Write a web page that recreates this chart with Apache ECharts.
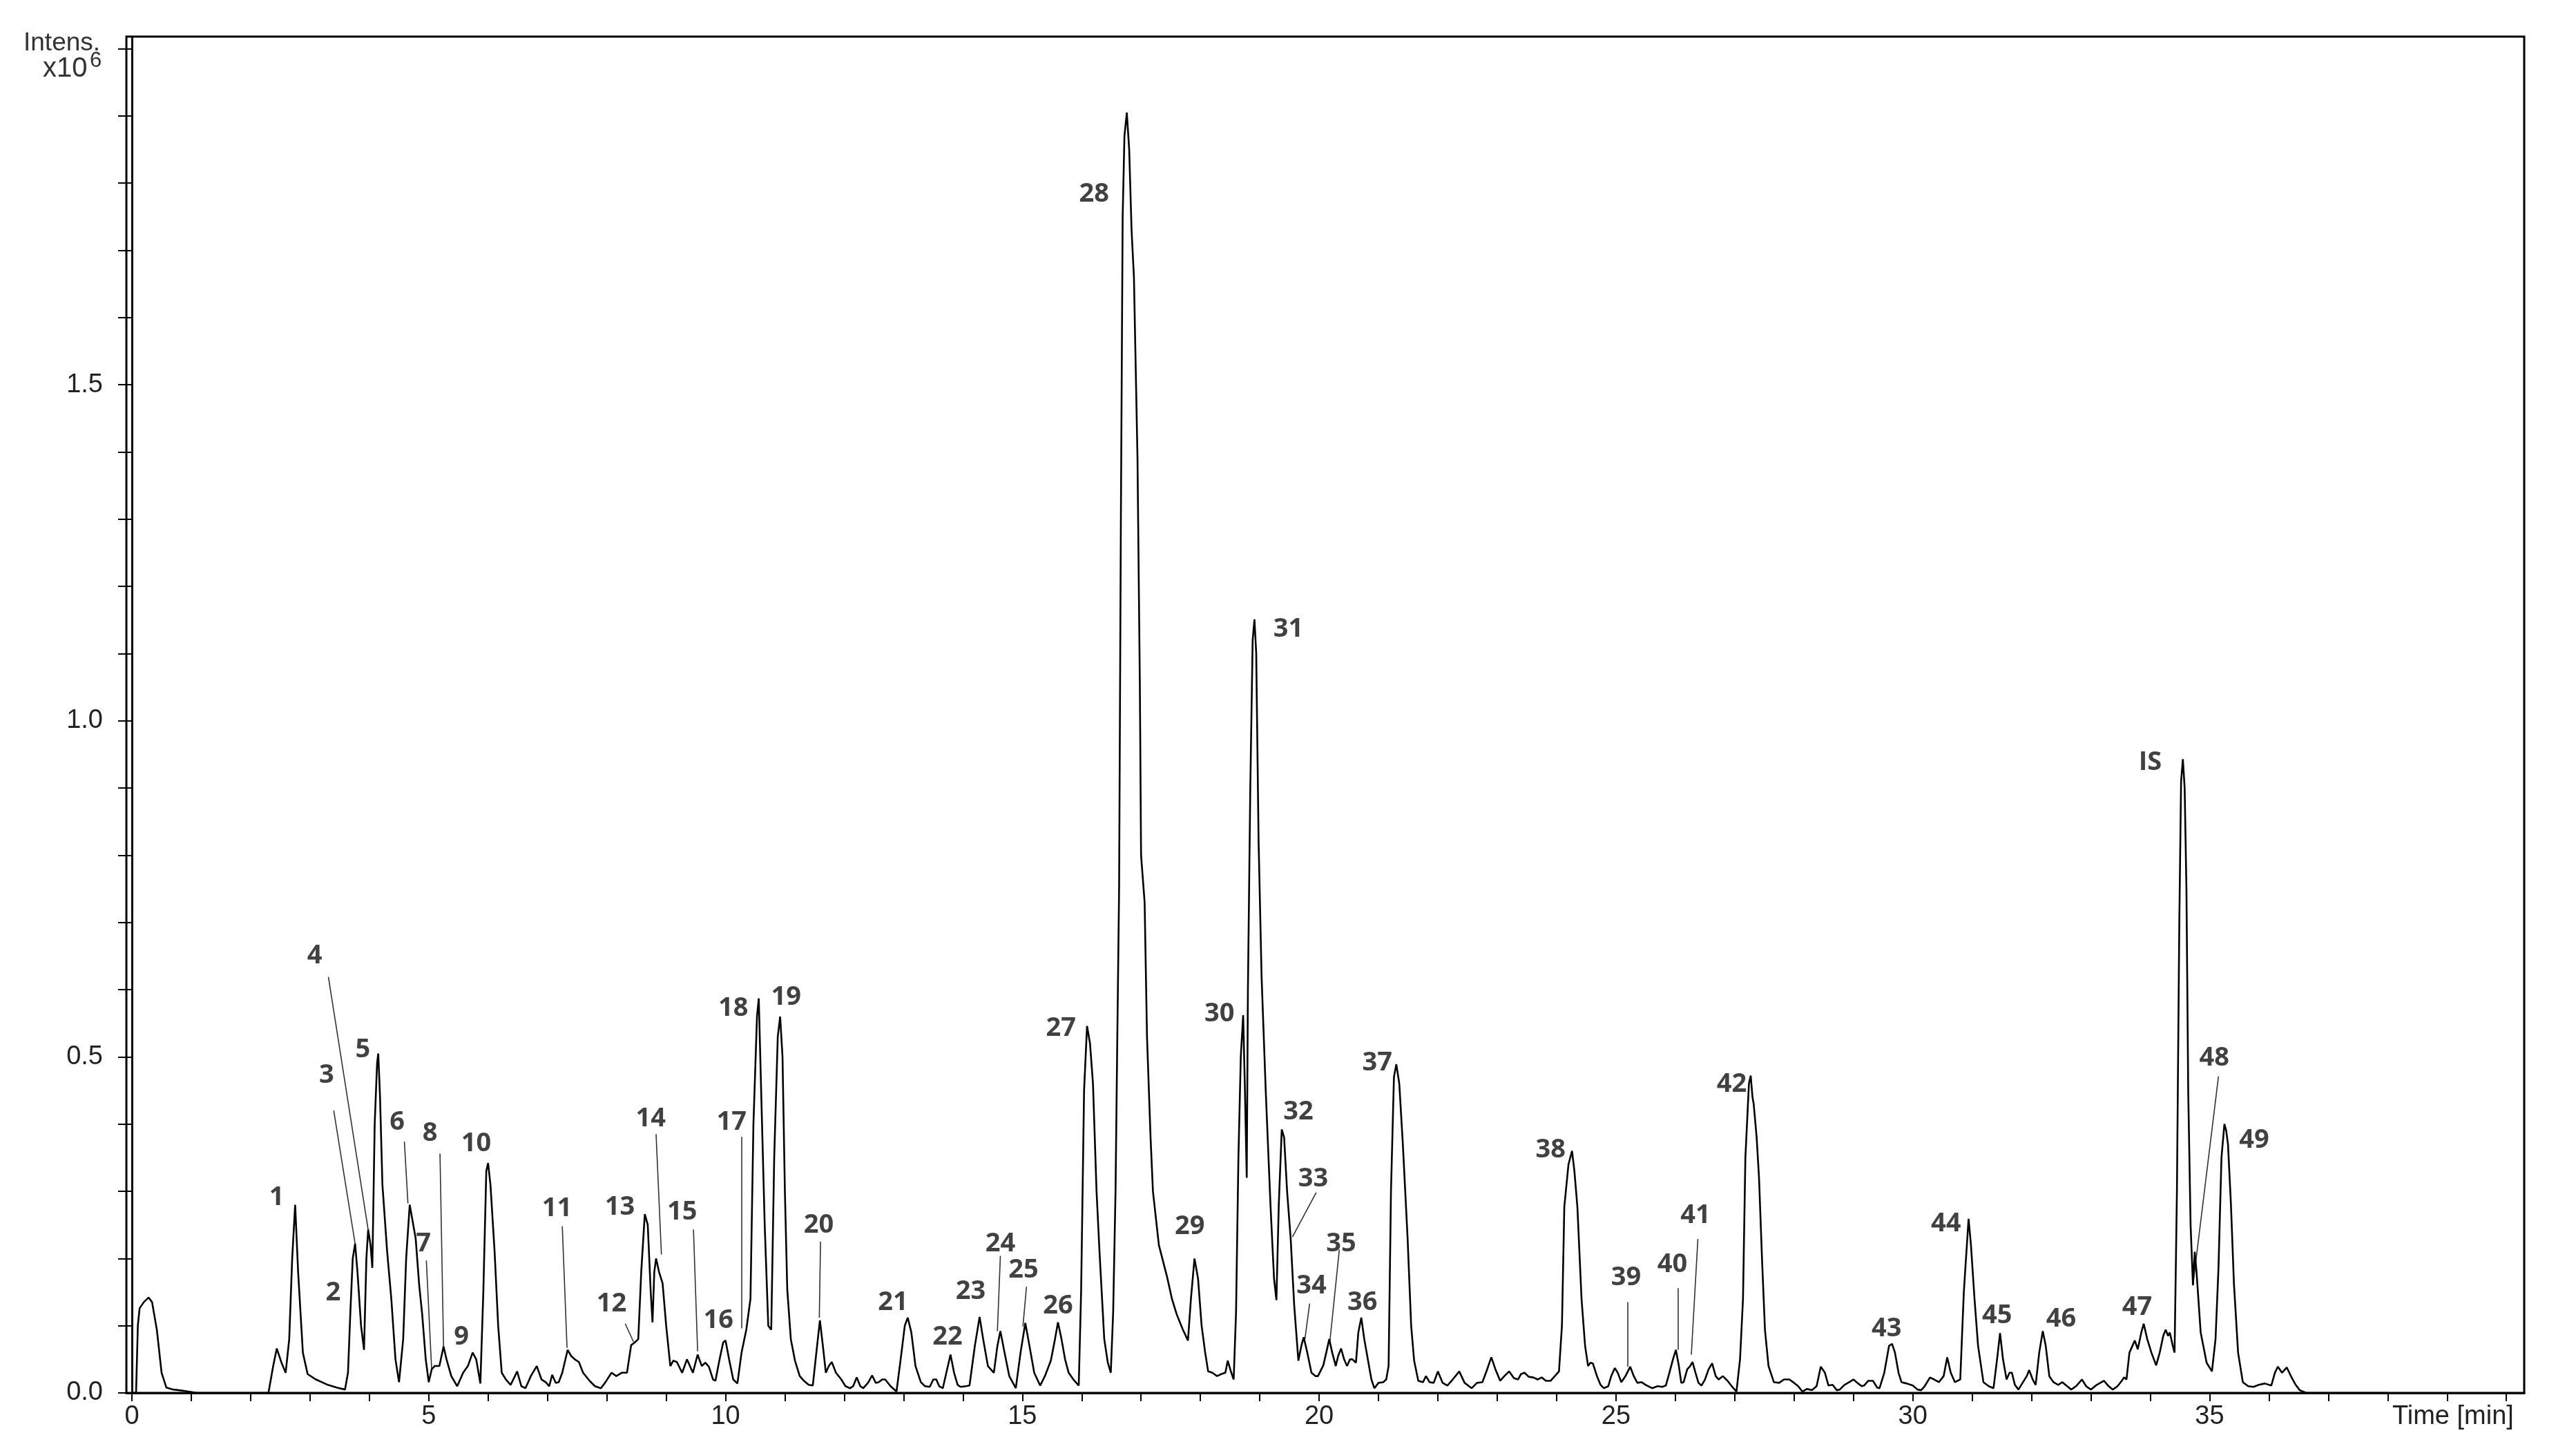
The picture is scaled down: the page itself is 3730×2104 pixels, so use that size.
<!DOCTYPE html>
<html>
<head>
<meta charset="utf-8">
<script src="https://cdn.jsdelivr.net/npm/echarts@6/dist/echarts.min.js"></script>
<style>
html,body{margin:0;padding:0;background:#fff;}
#chart{width:3730px;height:2104px;}
</style>
</head>
<body>
<div id="chart"></div>
<script>
// Chromatogram trace: [time (min), intensity (x10^6)]
const trace = [
[0.00,0],[0.07,0],[0.10,0.10],[0.13,0.126],[0.20,0.135],[0.28,0.142],[0.34,0.135],[0.42,0.094],[0.50,0.03],[0.58,0.008],[0.70,0.005],[0.80,0.004],[0.95,0.002],[1.10,0],
[2.30,0],[2.38,0.04],[2.44,0.066],[2.52,0.045],[2.59,0.03],[2.65,0.08],[2.70,0.2],[2.75,0.28],[2.80,0.18],[2.88,0.06],[2.96,0.028],[3.10,0.02],[3.30,0.012],[3.45,0.008],[3.59,0.005],
[3.64,0.03],[3.68,0.12],[3.72,0.2],[3.76,0.222],[3.80,0.18],[3.86,0.1],[3.91,0.064],[3.95,0.2],[3.98,0.243],[4.02,0.22],[4.05,0.186],[4.09,0.4],[4.13,0.49],[4.15,0.505],[4.18,0.44],[4.22,0.31],[4.30,0.21],[4.37,0.14],[4.44,0.05],[4.50,0.016],
[4.57,0.08],[4.62,0.2],[4.68,0.28],[4.72,0.26],[4.78,0.23],[4.84,0.16],[4.89,0.117],[4.95,0.05],[5.00,0.016],[5.05,0.035],[5.10,0.04],[5.18,0.04],[5.25,0.069],[5.30,0.05],[5.38,0.025],[5.48,0.01],[5.58,0.03],[5.66,0.04],[5.74,0.06],[5.80,0.05],[5.87,0.014],
[5.92,0.15],[5.97,0.33],[6.00,0.342],[6.04,0.31],[6.11,0.21],[6.17,0.1],[6.23,0.03],[6.30,0.02],[6.38,0.012],[6.49,0.032],[6.56,0.01],[6.63,0.007],[6.72,0.025],[6.82,0.04],[6.90,0.02],[6.97,0.016],[7.03,0.01],[7.08,0.027],[7.14,0.015],[7.19,0.016],[7.25,0.03],
[7.34,0.064],[7.40,0.055],[7.46,0.05],[7.53,0.046],[7.60,0.03],[7.71,0.018],[7.80,0.01],[7.90,0.007],[7.97,0.015],[8.08,0.03],[8.16,0.025],[8.25,0.03],[8.34,0.03],[8.41,0.071],[8.47,0.075],[8.53,0.08],
[8.58,0.18],[8.64,0.266],[8.69,0.25],[8.74,0.15],[8.77,0.105],[8.80,0.18],[8.83,0.2],[8.88,0.18],[8.94,0.163],[9.00,0.1],[9.07,0.04],[9.12,0.048],[9.18,0.046],[9.27,0.03],[9.35,0.05],[9.45,0.03],[9.53,0.057],[9.60,0.04],[9.66,0.045],[9.72,0.039],[9.79,0.02],[9.83,0.018],
[9.90,0.05],[9.96,0.075],[10.00,0.078],[10.06,0.05],[10.13,0.02],[10.20,0.014],[10.27,0.06],[10.35,0.094],[10.42,0.14],[10.47,0.4],[10.53,0.56],[10.56,0.587],[10.60,0.45],[10.66,0.25],[10.72,0.1],[10.77,0.094],
[10.82,0.35],[10.88,0.53],[10.92,0.56],[10.96,0.5],[11.00,0.3],[11.04,0.154],[11.10,0.08],[11.17,0.048],[11.25,0.025],[11.32,0.018],[11.40,0.012],[11.47,0.011],[11.53,0.06],[11.59,0.108],[11.64,0.07],[11.69,0.03],[11.74,0.04],[11.79,0.046],[11.86,0.03],[11.95,0.02],
[12.02,0.01],[12.10,0.007],[12.15,0.01],[12.21,0.023],[12.27,0.01],[12.32,0.007],[12.40,0.015],[12.47,0.026],[12.53,0.015],[12.58,0.016],[12.64,0.02],[12.69,0.02],[12.78,0.01],[12.88,0.002],
[12.95,0.05],[13.02,0.1],[13.07,0.112],[13.13,0.09],[13.20,0.04],[13.29,0.016],[13.36,0.01],[13.44,0.009],[13.50,0.02],[13.55,0.02],[13.60,0.01],[13.66,0.007],[13.72,0.03],[13.79,0.057],[13.85,0.03],[13.91,0.012],[13.96,0.009],[14.05,0.01],[14.11,0.011],
[14.20,0.07],[14.28,0.113],[14.34,0.08],[14.42,0.04],[14.52,0.03],[14.58,0.07],[14.63,0.092],[14.70,0.06],[14.78,0.025],[14.89,0.007],[14.97,0.06],[15.05,0.104],[15.12,0.07],[15.20,0.03],[15.30,0.011],[15.38,0.025],[15.48,0.048],[15.55,0.08],[15.60,0.105],[15.66,0.08],[15.72,0.05],[15.78,0.03],[15.86,0.02],[15.95,0.011],
[15.99,0.15],[16.04,0.45],[16.09,0.546],[16.14,0.52],[16.19,0.46],[16.25,0.3],[16.30,0.21],[16.38,0.08],[16.44,0.045],[16.49,0.03],
[16.53,0.12],[16.57,0.3],[16.60,0.53],[16.63,0.75],[16.66,1.3],[16.69,1.75],[16.72,1.87],[16.76,1.905],[16.80,1.85],[16.84,1.73],[16.88,1.66],[16.94,1.39],[16.98,1.05],[17.00,0.8],[17.06,0.73],[17.10,0.53],[17.16,0.38],[17.20,0.3],[17.30,0.22],[17.44,0.172],[17.52,0.14],[17.60,0.117],[17.70,0.095],[17.79,0.078],
[17.84,0.14],[17.90,0.2],[17.96,0.17],[18.02,0.1],[18.08,0.06],[18.13,0.032],[18.20,0.03],[18.28,0.025],[18.35,0.028],[18.42,0.03],[18.46,0.048],[18.52,0.03],[18.56,0.02],
[18.60,0.12],[18.64,0.35],[18.68,0.5],[18.72,0.562],[18.75,0.45],[18.78,0.32],[18.80,0.6],[18.84,0.9],[18.88,1.12],[18.91,1.151],[18.94,1.1],[18.98,0.82],[19.03,0.62],[19.10,0.45],[19.18,0.28],[19.24,0.17],[19.28,0.138],
[19.32,0.28],[19.37,0.392],[19.41,0.38],[19.46,0.3],[19.52,0.23],[19.58,0.13],[19.65,0.048],[19.70,0.07],[19.74,0.083],[19.80,0.06],[19.87,0.03],[19.94,0.025],[19.98,0.025],[20.07,0.041],[20.12,0.06],[20.17,0.08],[20.22,0.06],[20.28,0.04],[20.32,0.055],[20.37,0.066],[20.42,0.05],[20.47,0.04],[20.52,0.05],[20.56,0.05],[20.62,0.045],
[20.66,0.09],[20.71,0.112],[20.76,0.08],[20.82,0.05],[20.88,0.02],[20.93,0.007],[21.00,0.015],[21.08,0.016],[21.13,0.02],[21.17,0.04],[21.21,0.3],[21.26,0.47],[21.30,0.489],[21.35,0.46],[21.41,0.37],[21.49,0.23],[21.55,0.1],[21.60,0.048],[21.67,0.018],[21.75,0.016],[21.80,0.025],[21.86,0.016],[21.93,0.015],
[22.00,0.032],[22.08,0.015],[22.16,0.011],[22.25,0.02],[22.36,0.032],[22.45,0.015],[22.57,0.007],[22.66,0.015],[22.75,0.016],[22.83,0.035],[22.90,0.053],[22.97,0.035],[23.05,0.018],[23.12,0.025],[23.20,0.032],[23.28,0.022],[23.35,0.02],[23.40,0.028],[23.46,0.03],[23.53,0.024],[23.61,0.023],[23.68,0.02],[23.75,0.023],[23.82,0.018],[23.90,0.018],[23.97,0.025],[24.04,0.032],
[24.09,0.1],[24.13,0.277],[24.20,0.34],[24.26,0.36],[24.30,0.33],[24.35,0.277],[24.42,0.14],[24.48,0.07],[24.53,0.04],[24.57,0.045],[24.61,0.044],[24.68,0.025],[24.74,0.012],[24.80,0.007],[24.87,0.01],[24.92,0.025],[24.98,0.037],[25.03,0.03],[25.09,0.016],[25.16,0.025],[25.24,0.039],[25.30,0.025],[25.36,0.015],[25.43,0.016],[25.50,0.012],[25.61,0.007],[25.70,0.01],[25.78,0.009],[25.84,0.011],
[25.90,0.03],[25.96,0.05],[26.01,0.064],[26.06,0.04],[26.10,0.015],[26.14,0.016],[26.20,0.035],[26.25,0.04],[26.29,0.046],[26.34,0.03],[26.39,0.015],[26.44,0.011],[26.50,0.02],[26.56,0.035],[26.62,0.044],[26.68,0.025],[26.73,0.02],[26.80,0.025],[26.88,0.018],[26.95,0.01],[27.03,0.002],
[27.09,0.05],[27.14,0.14],[27.18,0.35],[27.24,0.46],[27.27,0.472],[27.30,0.44],[27.32,0.43],[27.37,0.38],[27.41,0.32],[27.46,0.2],[27.51,0.094],[27.57,0.04],[27.66,0.016],[27.75,0.015],[27.83,0.02],[27.92,0.02],[28.00,0.015],[28.07,0.01],[28.14,0.002],[28.22,0.006],[28.30,0.004],[28.38,0.01],[28.45,0.039],[28.52,0.03],[28.58,0.011],[28.65,0.012],[28.72,0.004],[28.77,0.005],[28.85,0.012],[28.93,0.016],[29.00,0.02],[29.08,0.014],[29.14,0.01],[29.18,0.011],[29.25,0.018],[29.33,0.018],[29.40,0.008],[29.44,0.007],
[29.52,0.03],[29.60,0.07],[29.65,0.073],[29.70,0.06],[29.76,0.03],[29.81,0.016],[29.90,0.014],[30.00,0.011],[30.08,0.005],[30.14,0.004],[30.20,0.01],[30.29,0.023],[30.36,0.02],[30.44,0.016],[30.52,0.025],[30.58,0.053],[30.64,0.03],[30.71,0.016],[30.80,0.02],
[30.86,0.15],[30.94,0.259],[30.98,0.22],[31.04,0.14],[31.10,0.07],[31.19,0.016],[31.28,0.01],[31.36,0.007],[31.42,0.05],[31.47,0.089],[31.52,0.05],[31.58,0.02],[31.63,0.03],[31.67,0.03],[31.72,0.012],[31.78,0.005],[31.85,0.015],[31.92,0.025],[31.96,0.034],[32.02,0.02],[32.07,0.012],
[32.13,0.06],[32.19,0.092],[32.24,0.07],[32.30,0.025],[32.37,0.016],[32.45,0.012],[32.52,0.016],[32.60,0.01],[32.67,0.005],[32.75,0.01],[32.85,0.02],[32.92,0.01],[33.00,0.005],[33.10,0.012],[33.22,0.018],[33.30,0.01],[33.37,0.005],[33.45,0.01],[33.52,0.018],[33.56,0.023],[33.60,0.02],
[33.65,0.06],[33.70,0.07],[33.74,0.078],[33.79,0.065],[33.85,0.09],[33.89,0.103],[33.95,0.08],[34.02,0.06],[34.10,0.041],[34.16,0.06],[34.22,0.085],[34.26,0.094],[34.30,0.085],[34.33,0.09],[34.38,0.07],[34.41,0.06],
[34.45,0.3],[34.49,0.7],[34.52,0.91],[34.55,0.943],[34.58,0.9],[34.61,0.75],[34.64,0.45],[34.68,0.25],[34.72,0.16],[34.75,0.21],[34.78,0.18],[34.85,0.09],[34.95,0.045],[35.04,0.032],
[35.10,0.08],[35.15,0.186],[35.20,0.35],[35.25,0.40],[35.28,0.39],[35.31,0.37],[35.36,0.28],[35.41,0.163],[35.48,0.06],[35.56,0.016],[35.65,0.01],[35.74,0.009],[35.83,0.012],[35.93,0.014],[36.04,0.011],[36.10,0.03],[36.15,0.039],[36.22,0.03],[36.30,0.038],[36.37,0.025],[36.45,0.012],[36.52,0.004],[36.63,0],[38.00,0]
];

// Peak labels: text, time, intensity where the label sits
const peakNames  = ['1','2','3','4','5','6','7','8','9','10','11','12','13','14','15','16','17','18','19','20','21','22','23','24','25','26','27','28','29','30','31','32','33','34','35','36','37','38','39','40','41','42','43','44','45','46','47','IS','48','49'];
const peakTimes  = [2.44,3.39,3.28,3.08,3.89,4.47,4.91,5.02,5.55,5.80,7.16,8.08,8.22,8.74,9.27,9.88,10.10,10.13,11.02,11.57,12.82,13.74,14.13,14.63,15.02,15.60,15.65,16.21,17.82,18.32,19.48,19.65,19.90,19.87,20.37,20.73,20.98,23.90,25.17,25.95,26.34,26.95,29.56,30.56,31.42,32.50,33.78,34.00,35.08,35.75];
const peakLevels = [0.291,0.149,0.472,0.650,0.511,0.403,0.222,0.386,0.083,0.371,0.274,0.132,0.276,0.408,0.269,0.108,0.403,0.572,0.589,0.249,0.134,0.083,0.151,0.222,0.183,0.129,0.542,1.784,0.247,0.564,1.136,0.418,0.318,0.159,0.222,0.134,0.491,0.362,0.171,0.191,0.264,0.459,0.095,0.252,0.115,0.110,0.127,0.938,0.498,0.376];

// Leader lines from labels to peaks: [t1, v1, t2, v2]
const leaderLines = [
[3.40,0.420,3.76,0.222],
[3.31,0.619,3.98,0.243],
[4.59,0.374,4.65,0.282],
[4.96,0.197,5.05,0.034],
[5.19,0.356,5.25,0.067],
[7.25,0.248,7.33,0.067],
[8.31,0.103,8.45,0.076],
[8.83,0.385,8.92,0.206],
[9.46,0.243,9.53,0.062],
[10.27,0.381,10.27,0.096],
[11.60,0.225,11.58,0.112],
[14.63,0.204,14.58,0.092],
[15.07,0.158,15.01,0.099],
[19.95,0.298,19.55,0.232],
[19.84,0.133,19.76,0.080],
[20.34,0.213,20.18,0.076],
[25.20,0.135,25.20,0.039],
[26.04,0.156,26.04,0.064],
[26.38,0.229,26.27,0.057],
[35.15,0.471,34.72,0.161]
];

const xTickValues = Array.from({length: 41}, (_, i) => i);
const xLabelValues = [0, 5, 10, 15, 20, 25, 30, 35, 39.1];
const yTickValues = Array.from({length: 21}, (_, i) => i / 10);
const yLabelValues = [0, 0.5, 1.0, 1.5];

const chart = echarts.init(document.getElementById('chart'), null, {renderer: 'canvas'});
const axisFont = '"Liberation Sans Narrow", "Liberation Sans", Arial, sans-serif';
const titleFont = '"Liberation Sans", Arial, sans-serif';

chart.setOption({
  animation: false,
  backgroundColor: '#ffffff',
  grid: {left: 183, right: 75, top: 53, bottom: 87, show: true, borderColor: '#000', borderWidth: 3, backgroundColor: 'transparent'},
  xAxis: {
    type: 'value', min: -0.093, max: 40.3,
    splitLine: {show: false},
    axisLine: {show: true, onZero: false, lineStyle: {color: '#000', width: 3}},
    axisTick: {show: true, customValues: xTickValues, length: 12, lineStyle: {color: '#000', width: 2}},
    axisLabel: {
      show: true, customValues: xLabelValues, margin: 16,
      fontFamily: axisFont, fontSize: 38, color: '#222',
      formatter: v => (Math.abs(v - 39.1) < 1e-6 ? 'Time [min]' : String(Math.round(v)))
    }
  },
  yAxis: {
    type: 'value', min: 0, max: 2.018,
    splitLine: {show: false},
    axisLine: {show: true, lineStyle: {color: '#000', width: 3}},
    axisTick: {show: true, customValues: yTickValues, length: 20, lineStyle: {color: '#000', width: 2}},
    axisLabel: {
      show: true, customValues: yLabelValues, margin: 34,
      fontFamily: axisFont, fontSize: 38, color: '#222',
      formatter: v => v.toFixed(1)
    }
  },
  graphic: [
    {type: 'text', left: 34, top: 44, style: {text: 'Intens.', fontFamily: titleFont, fontSize: 37, fill: '#333'}},
    {type: 'text', left: 62, top: 80, style: {text: 'x10', fontFamily: titleFont, fontSize: 40, fill: '#333'}},
    {type: 'text', left: 130, top: 73, style: {text: '6', fontFamily: titleFont, fontSize: 31, fill: '#333'}}
  ],
  series: [
    {
      type: 'line', data: trace, showSymbol: false, smooth: false, sampling: 'none',
      lineStyle: {color: '#000', width: 2.6}, z: 3
    },
    {
      type: 'lines', coordinateSystem: 'cartesian2d', polyline: false, z: 2,
      lineStyle: {color: '#333', width: 1.6, opacity: 1},
      data: leaderLines.map(l => ({coords: [[l[0], l[1]], [l[2], l[3]]]}))
    },
    {
      type: 'scatter', symbolSize: 1, itemStyle: {color: 'rgba(0,0,0,0)'}, z: 5,
      label: {
        show: true, position: 'inside', formatter: '{b}',
        fontFamily: '"Open Sans", "Noto Sans", sans-serif', fontWeight: 'bold', fontSize: 38, color: '#111'
      },
      data: peakNames.map((n, i) => ({name: n, value: [peakTimes[i], peakLevels[i]]}))
    }
  ]
});
</script>
</body>
</html>
